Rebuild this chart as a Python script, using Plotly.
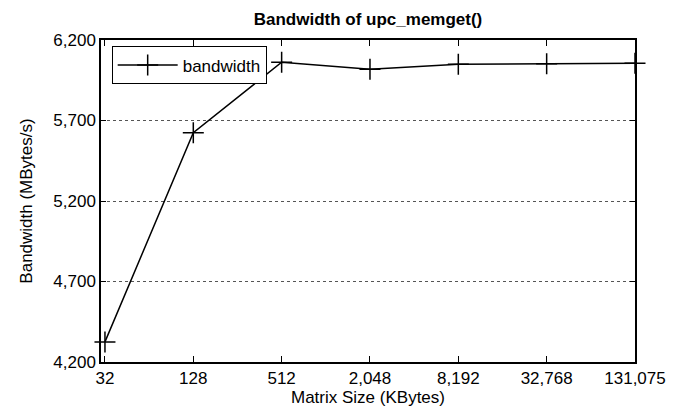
import math
import plotly.graph_objects as go

sizes_kb = [32, 128, 512, 2048, 8192, 32768, 131075]
bandwidth = [4325, 5624, 6062, 6018, 6049, 6053, 6055]
x_tick_labels = ["32", "128", "512", "2,048", "8,192", "32,768", "131,075"]
y_ticks = [4200, 4700, 5200, 5700, 6200]
y_tick_labels = ["4,200", "4,700", "5,200", "5,700", "6,200"]

font_family = "Liberation Sans, Arial, Helvetica, sans-serif"

fig = go.Figure()
fig.add_trace(go.Scatter(
    x=sizes_kb, y=bandwidth, mode="lines+markers", name="bandwidth",
    line=dict(color="black", width=1.5),
    marker=dict(symbol="cross-thin", size=15, line=dict(color="black", width=1.5), color="black"),
    cliponaxis=False,
))

fig.update_layout(
    width=686, height=420,
    margin=dict(l=101, r=51, t=40, b=58),
    paper_bgcolor="white", plot_bgcolor="white",
    font=dict(family=font_family, size=17, color="black"),
    title=dict(text="<b>Bandwidth of upc_memget()</b>", xref="paper", x=0.5, xanchor="center",
               yref="container", y=1 - 19/420, yanchor="middle", font=dict(size=17)),
    showlegend=True,
    legend=dict(x=0.02, y=0.98, xanchor="left", yanchor="top",
                bordercolor="black", borderwidth=1, bgcolor="white",
                font=dict(size=17), itemwidth=60,
                tracegroupgap=0),
    xaxis=dict(
        type="log",
        range=[math.log10(32) - 0.027, math.log10(131075)],
        tickvals=sizes_kb, ticktext=x_tick_labels,
        ticks="inside", ticklen=6, tickcolor="black", tickwidth=1,
        showline=True, linecolor="black", linewidth=1.5, mirror="ticks",
        showgrid=False, zeroline=False,
        title=dict(text="Matrix Size (KBytes)", standoff=3, font=dict(size=17)),
        tickfont=dict(size=17),
    ),
    yaxis=dict(
        range=[4200, 6200],
        tickvals=y_ticks, ticktext=y_tick_labels,
        ticks="inside", ticklen=5, tickcolor="black", tickwidth=1,
        showline=True, linecolor="black", linewidth=1.5, mirror="ticks",
        showgrid=True, gridcolor="#555555", gridwidth=1, griddash="dot",
        zeroline=False,
        title=dict(text="Bandwidth (MBytes/s)", standoff=16, font=dict(size=17)),
        tickfont=dict(size=17),
    ),
)

fig.write_html("out.html")
